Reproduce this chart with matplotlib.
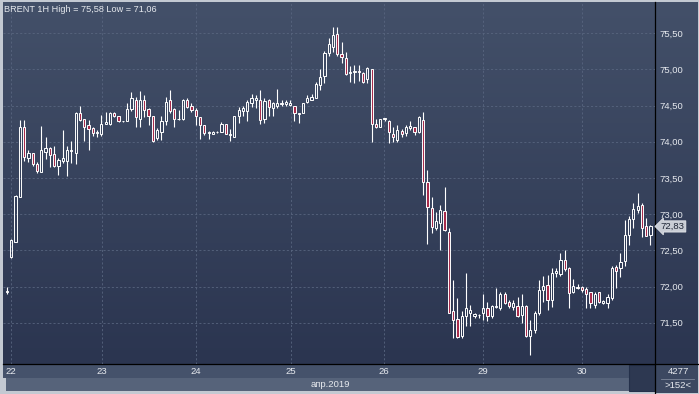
import matplotlib.pyplot as plt
from matplotlib.patches import Rectangle
from matplotlib.colors import LinearSegmentedColormap
import numpy as np

# hourly BRENT candles, index 0..150
opens = [71.93, 72.41, 72.62, 73.23, 74.20, 73.77, 73.84, 73.69, 73.58, 73.86,
         73.91, 73.83, 73.66, 73.74, 73.74, 73.87, 73.85, 74.40, 74.32, 74.23,
         74.19, 74.12, 74.10, 74.25, 74.24, 74.40, 74.35, 74.28, 74.29, 74.45,
         74.58, 74.32, 74.58, 74.45, 74.35, 74.05, 74.14, 74.28, 74.58, 74.45,
         74.31, 74.31, 74.58, 74.50, 74.44, 74.34, 74.23, 74.12, 74.11, 74.13,
         74.14, 74.25, 74.09, 74.07, 74.35, 74.43, 74.42, 74.54, 74.58, 74.58,
         74.31, 74.58, 74.47, 74.50, 74.52, 74.52, 74.51, 74.50, 74.38, 74.39,
         74.55, 74.58, 74.61, 74.78, 74.91, 75.23, 75.31, 75.49, 75.21, 75.16,
         74.95, 74.97, 74.98, 74.95, 74.86, 75.01, 74.25, 74.21, 74.31, 74.28,
         74.11, 74.03, 74.15, 74.12, 74.19, 74.20, 74.13, 74.30, 73.45, 73.08,
         72.81, 72.88, 73.04, 72.76, 71.66, 71.55, 71.31, 71.59, 71.63, 71.59,
         71.60, 71.63, 71.70, 71.59, 71.72, 71.71, 71.90, 71.79, 71.72, 71.73,
         71.60, 71.73, 71.32, 71.40, 71.63, 71.95, 72.02, 71.81, 72.19, 72.17,
         72.37, 72.25, 71.92, 72.00, 72.00, 71.97, 71.92, 71.75, 71.92, 71.77,
         71.77, 71.84, 72.27, 72.25, 72.35, 72.71, 72.93, 73.06, 73.13, 72.83,
         72.71]
highs = [72.00, 72.66, 73.26, 74.30, 74.30, 73.89, 73.85, 73.72, 74.22, 74.07,
         73.93, 73.94, 73.77, 74.16, 73.94, 74.01, 74.41, 74.50, 74.32, 74.30,
         74.21, 74.16, 74.37, 74.41, 74.41, 74.41, 74.36, 74.29, 74.53, 74.68,
         74.62, 74.70, 74.64, 74.46, 74.36, 74.19, 74.35, 74.62, 74.72, 74.46,
         74.44, 74.59, 74.60, 74.53, 74.46, 74.34, 74.23, 74.15, 74.15, 74.15,
         74.27, 74.25, 74.17, 74.35, 74.48, 74.49, 74.58, 74.66, 74.64, 74.71,
         74.60, 74.59, 74.55, 74.73, 74.58, 74.57, 74.57, 74.50, 74.39, 74.54,
         74.64, 74.66, 74.83, 75.01, 75.25, 75.43, 75.58, 75.58, 75.38, 75.24,
         75.04, 75.06, 75.06, 74.96, 75.03, 75.01, 74.31, 74.32, 74.33, 74.30,
         74.21, 74.23, 74.17, 74.23, 74.28, 74.21, 74.35, 74.41, 73.61, 73.24,
         73.03, 73.13, 73.38, 72.81, 72.09, 71.84, 71.66, 72.19, 71.75, 71.64,
         71.62, 71.89, 71.79, 71.74, 71.98, 71.93, 71.92, 71.82, 71.82, 71.86,
         71.89, 71.74, 71.54, 71.66, 72.09, 72.14, 72.16, 72.25, 72.25, 72.46,
         72.50, 72.27, 72.10, 72.04, 72.01, 72.00, 71.93, 71.92, 71.93, 71.81,
         71.89, 72.29, 72.30, 72.46, 72.92, 72.97, 73.15, 73.29, 73.15, 72.94,
         72.85]
lows = [71.90, 72.40, 72.62, 73.23, 73.74, 73.72, 73.66, 73.57, 73.58, 73.76,
        73.65, 73.65, 73.54, 73.71, 73.53, 73.70, 73.69, 74.28, 74.01, 73.89,
        74.08, 74.07, 74.08, 74.24, 74.23, 74.34, 74.27, 74.27, 74.28, 74.43,
        74.20, 74.20, 74.34, 74.23, 73.99, 74.02, 74.02, 74.23, 74.40, 74.20,
        74.30, 74.30, 74.47, 74.41, 74.23, 74.04, 74.09, 74.04, 74.10, 74.12,
        74.13, 74.10, 74.01, 74.07, 74.26, 74.35, 74.29, 74.48, 74.46, 74.24,
        74.26, 74.35, 74.35, 74.46, 74.50, 74.50, 74.49, 74.28, 74.26, 74.39,
        74.54, 74.57, 74.60, 74.72, 74.81, 75.18, 75.24, 75.18, 75.09, 74.92,
        74.83, 74.81, 74.84, 74.81, 74.81, 73.99, 74.19, 74.20, 74.28, 73.98,
        73.99, 74.00, 74.07, 74.08, 74.16, 74.09, 74.12, 73.27, 72.59, 72.74,
        72.78, 72.50, 72.77, 71.63, 71.29, 71.29, 71.29, 71.45, 71.45, 71.57,
        71.56, 71.54, 71.52, 71.56, 71.70, 71.68, 71.76, 71.70, 71.67, 71.58,
        71.50, 71.30, 71.06, 71.36, 71.61, 71.79, 71.68, 71.72, 72.13, 72.14,
        72.22, 71.70, 71.91, 71.96, 71.93, 71.71, 71.70, 71.70, 71.77, 71.76,
        71.70, 71.81, 71.98, 72.13, 72.29, 72.58, 72.81, 73.02, 72.68, 72.70,
        72.57]
closes = [71.94, 72.64, 73.25, 74.21, 73.79, 73.84, 73.69, 73.60, 73.89, 73.91,
          73.81, 73.66, 73.75, 73.77, 73.89, 73.89, 74.40, 74.30, 74.21, 74.17,
          74.12, 74.14, 74.24, 74.27, 74.40, 74.35, 74.28, 74.29, 74.45, 74.61,
          74.34, 74.58, 74.44, 74.35, 74.01, 74.16, 74.28, 74.55, 74.42, 74.31,
          74.32, 74.57, 74.48, 74.44, 74.35, 74.23, 74.12, 74.14, 74.14, 74.14,
          74.24, 74.10, 74.10, 74.35, 74.44, 74.46, 74.55, 74.61, 74.61, 74.30,
          74.56, 74.48, 74.53, 74.54, 74.54, 74.55, 74.54, 74.39, 74.39, 74.54,
          74.60, 74.62, 74.80, 74.90, 75.22, 75.35, 75.47, 75.21, 75.17, 74.93,
          74.96, 74.98, 74.97, 74.83, 75.02, 74.24, 74.20, 74.31, 74.33, 74.13,
          74.06, 74.16, 74.11, 74.21, 74.22, 74.14, 74.34, 73.44, 73.10, 72.82,
          72.90, 73.06, 72.78, 71.64, 71.54, 71.30, 71.59, 71.70, 71.68, 71.62,
          71.61, 71.70, 71.59, 71.73, 71.73, 71.89, 71.77, 71.73, 71.77, 71.59,
          71.73, 71.32, 71.40, 71.63, 71.95, 72.01, 71.81, 72.19, 72.21, 72.37,
          72.24, 71.91, 72.01, 71.98, 71.95, 71.90, 71.77, 71.90, 71.78, 71.80,
          71.86, 72.25, 72.22, 72.34, 72.71, 72.93, 73.07, 73.11, 72.81, 72.70,
          72.83]

day_labels = ['22', '23', '24', '25', '26', '29', '30']
day_starts = [1, 22.1, 44.05, 66.2, 87.9, 110.95, 134.0]
price_ticks = [71.5, 72.0, 72.5, 73.0, 73.5, 74.0, 74.5, 75.0, 75.5]

FONT = 'Liberation Sans'
TXT = '#e6e9ee'
W, H = 699, 394
fig = plt.figure(figsize=(W / 100, H / 100), dpi=100)
fig.patch.set_facecolor('#c3c9d2')

# decoration layer in pixel coordinates
bg = fig.add_axes([0, 0, 1, 1])
bg.set_xlim(0, W)
bg.set_ylim(H, 0)
bg.axis('off')
grad = LinearSegmentedColormap.from_list('g', ['#435069', '#2b3550'])
bg.imshow(np.linspace(0, 1, 200).reshape(-1, 1), cmap=grad, aspect='auto',
          extent=(3, 698, 364, 2), zorder=0)
bg.add_patch(Rectangle((3, 364), 652, 14, fc='#45526b', ec='none'))
bg.add_patch(Rectangle((6, 378), 649, 13, fc='#56637a', ec='none'))
bg.add_patch(Rectangle((655, 364), 43, 29, fc='#3c4861', ec='none'))
bg.add_patch(Rectangle((629, 365), 26, 26, fc='#2d3851', ec='#24304a', lw=0.8))
bg.plot([3, 699], [364, 364], color='black', lw=0.9)
bg.plot([655, 655], [2, 394], color='black', lw=0.9)
bg.plot([661, 694], [378.5, 378.5], color='#7d879a', lw=0.6)
bg.text(678, 371.5, '4277', color=TXT, fontsize=6.8, ha='center', va='center', family=FONT)
bg.text(678, 385, '>152<', color=TXT, fontsize=6.8, ha='center', va='center', family=FONT)
bg.text(330, 384.5, 'апр.2019', color=TXT, fontsize=6.8, ha='center', va='center',
        family=FONT)

ax = fig.add_axes([3 / W, 30 / H, 652 / W, 362 / H])
ax.set_facecolor('none')
for s in ax.spines.values():
    s.set_visible(False)
ax.set_xlim(-0.93, 151.05)
ax.set_ylim(70.93, 75.93)

for v in price_ticks:
    ax.axhline(v, color='#58657f', lw=0.6, ls=(0, (2.5, 2.5)), zorder=1)
for d in day_starts:
    ax.axvline(d, color='#58657f', lw=0.6, ls=(0, (2.5, 2.5)), zorder=1)

bw = 0.52
for i, (o, h, l, c) in enumerate(zip(opens, highs, lows, closes)):
    top, bot = max(o, c), min(o, c)
    ax.plot([i, i], [top, h], color='white', lw=0.8, solid_capstyle='butt', zorder=3)
    ax.plot([i, i], [l, bot], color='white', lw=0.8, solid_capstyle='butt', zorder=3)
    fc = 'none' if c >= o else '#a82c4c'
    ax.add_patch(Rectangle((i - bw / 2, bot), bw, max(top - bot, 0.005),
                           fc=fc, ec='white', lw=0.7, zorder=4))

ax.yaxis.tick_right()
ax.set_yticks(price_ticks)
ax.set_yticklabels([f'{v:.2f}'.replace('.', ',') for v in price_ticks])
ax.set_xticks(day_starts)
ax.set_xticklabels(day_labels)
ax.tick_params(length=0, colors=TXT, labelsize=6.8)
ax.tick_params(axis='y', pad=3)
ax.tick_params(axis='x', pad=2.5)
for t in ax.get_xticklabels() + ax.get_yticklabels():
    t.set_family(FONT)

last = closes[-1]
ax.text(1.009, last, f'{last:.2f}'.replace('.', ','), transform=ax.get_yaxis_transform(),
        fontsize=6.8, color='#1d2434', va='center', ha='left', family=FONT,
        bbox=dict(boxstyle='larrow,pad=0.12', fc='#c9cdd5', ec='#eceef2', lw=0.5),
        zorder=6, clip_on=False)

fig.text(4 / W, 1 - 9 / H, 'BRENT 1H High = 75,58 Low = 71,06', color=TXT,
         fontsize=6.6, va='center', ha='left', family=FONT)

fig.savefig('out.png', dpi=100)
plt.close(fig)
